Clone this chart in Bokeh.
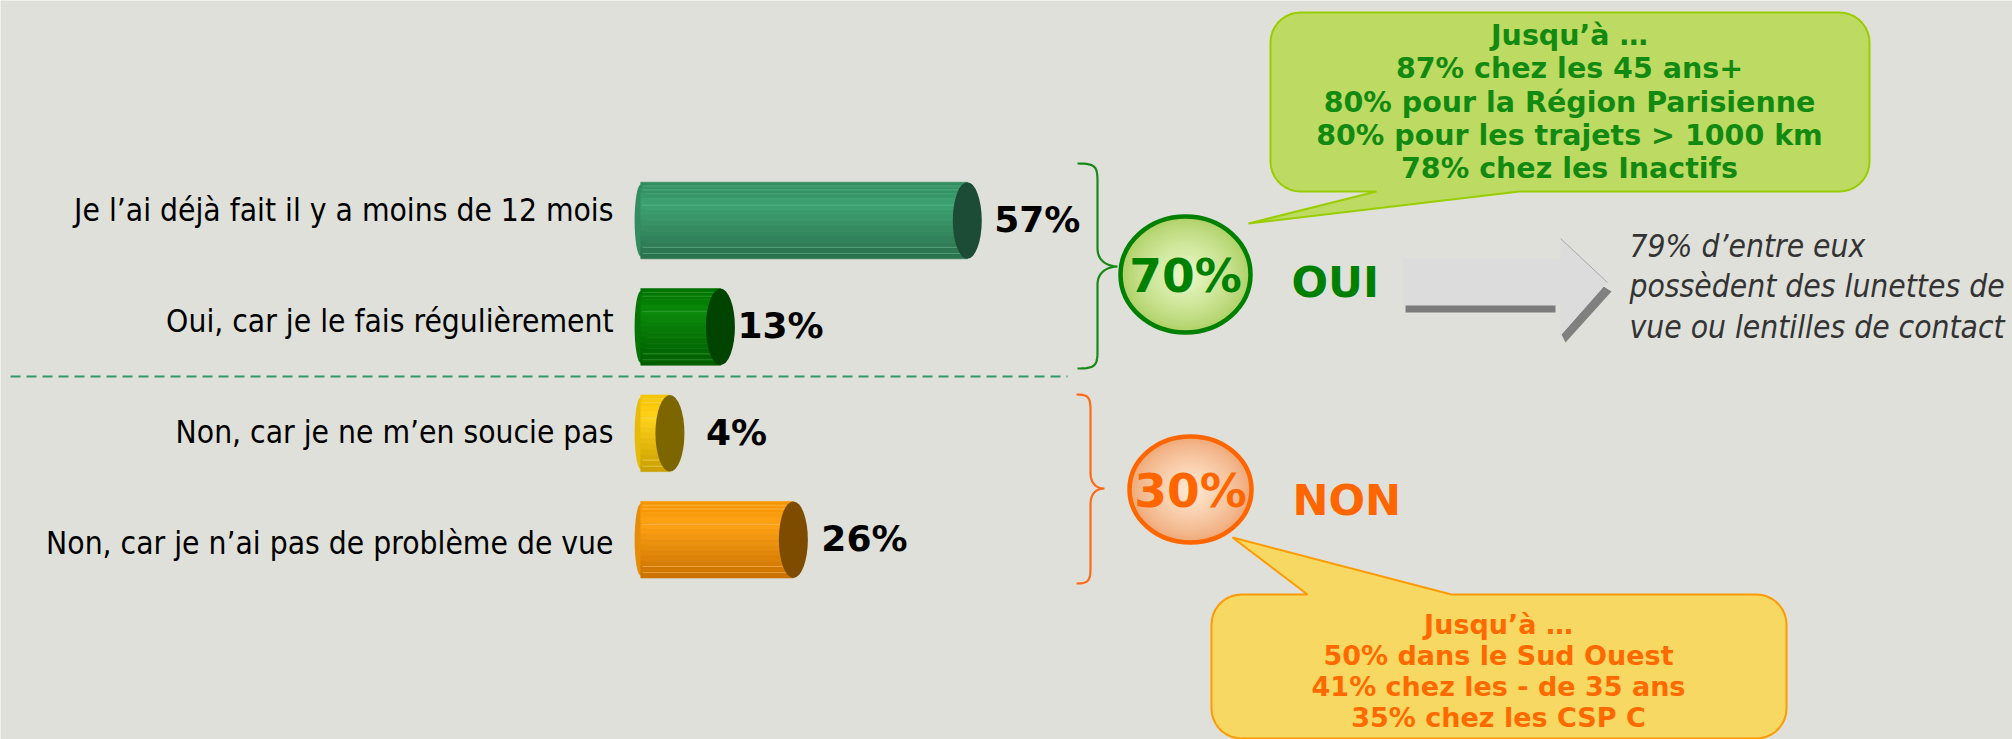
import numpy as np
from bokeh.plotting import figure
from bokeh.models import Range1d
from bokeh.core.properties import value
from bokeh.embed import file_html
from bokeh.resources import INLINE

# ---------------- data ----------------
categories = [
    "Je l\u2019ai d\u00e9j\u00e0 fait il y a moins de 12 mois",
    "Oui, car je le fais r\u00e9guli\u00e8rement",
    "Non, car je ne m\u2019en soucie pas",
    "Non, car je n\u2019ai pas de probl\u00e8me de vue",
]
values = [57, 13, 4, 26]
groups = ["OUI", "OUI", "NON", "NON"]
oui_details = ["Jusqu\u2019\u00e0 \u2026", "87% chez les 45 ans+", "80% pour la R\u00e9gion Parisienne",
               "80% pour les trajets > 1000 km", "78% chez les Inactifs"]
non_details = ["Jusqu\u2019\u00e0 \u2026", "50% dans le Sud Ouest", "41% chez les - de 35 ans", "35% chez les CSP C"]
oui_note = ["79% d\u2019entre eux", "poss\u00e8dent des lunettes de", "vue ou lentilles de contact"]

oui_total = sum(v for v, g in zip(values, groups) if g == "OUI")
non_total = sum(v for v, g in zip(values, groups) if g == "NON")

# ---------------- styles ----------------
BG = "#dfe0da"
W, H = 2012, 739
bar_styles = [
    dict(top="#2f8a5e", hi="#3da372", bot="#2a6f4c", cap="#1c4c35", stripe="#6cbf96"),
    dict(top="#007000", hi="#0a8a0a", bot="#005c00", cap="#004400", stripe="#45a845"),
    dict(top="#f5c400", hi="#ffd21a", bot="#c99e00", cap="#7d6500", stripe="#f3de7a"),
    dict(top="#f59300", hi="#ffa214", bot="#c87000", cap="#7d4c00", stripe="#ffc46e"),
]
value_label_offsets = [27, 17, 36, 28]   # px gap after each bar end
LABEL_FONT = value("DejaVu Sans Condensed")
BOLD_FONT = value("DejaVu Sans")

p = figure(width=W, height=H, output_backend="svg", toolbar_location=None,
           x_range=Range1d(0, W), y_range=Range1d(H, 0),
           min_border=0, background_fill_color=BG, border_fill_color=BG,
           outline_line_color=None)
p.axis.visible = False
p.grid.visible = False

# scales for the bars: percent -> pixels, row -> pixels
PX0, PX_PER_PCT = 647.0, 5.61
ROW0, ROW_STEP = 220.0, 106.4
p.extra_x_ranges = {"pct": Range1d((0 - PX0) / PX_PER_PCT, (W - PX0) / PX_PER_PCT)}
p.extra_y_ranges = {"row": Range1d((H - ROW0) / ROW_STEP, (0 - ROW0) / ROW_STEP)}


def hex2rgb(h):
    h = h.lstrip("#")
    return np.array([int(h[i:i + 2], 16) for i in (0, 2, 4)], dtype=float)


def rgb2hex(c):
    c = np.clip(np.round(c), 0, 255).astype(int)
    return "#%02x%02x%02x" % tuple(c)


def mix(a, b, t):
    return rgb2hex(hex2rgb(a) * (1 - t) + hex2rgb(b) * t)


# ---------------- bars ----------------
BAR_H = 0.72          # in row units
BASE = -1.2           # left end of cylinder (pct units)
CAP_W = 29 / PX_PER_PCT
NSTRIP = 14
rows = list(range(len(values)))
for r, v, st in zip(rows, values, bar_styles):
    # left rounded edge
    p.ellipse(x=[BASE], y=[r], width=[2.2], height=[BAR_H * 0.94], fill_color=mix(st["hi"], st["bot"], 0.45),
              line_color=None, x_range_name="pct", y_range_name="row")
    tops, bots, cols = [], [], []
    for j in range(NSTRIP):
        t = (j + 0.5) / NSTRIP
        if t < 0.3:
            c = mix(st["top"], st["hi"], t / 0.3)
        else:
            c = mix(st["hi"], st["bot"], (t - 0.3) / 0.7)
        tops.append(r - BAR_H / 2 + j * BAR_H / NSTRIP)
        bots.append(r - BAR_H / 2 + (j + 1) * BAR_H / NSTRIP)
        cols.append(c)
    p.quad(left=[BASE] * NSTRIP, right=[v] * NSTRIP, top=tops, bottom=bots, fill_color=cols,
           line_color=cols, line_width=0.6, x_range_name="pct", y_range_name="row")
    # light stripes
    for f in (0.05, 0.1, 0.3, 0.85, 0.93):
        yy = r - BAR_H / 2 + f * BAR_H
        p.segment(x0=[BASE + 0.3], x1=[v], y0=[yy], y1=[yy], line_color=st["stripe"],
                  line_alpha=0.55, line_width=1, x_range_name="pct", y_range_name="row")
    # end cap
    p.ellipse(x=[v], y=[r], width=[CAP_W], height=[BAR_H], fill_color=st["cap"],
              line_color=None, x_range_name="pct", y_range_name="row")

# value labels
for r, v, off in zip(rows, values, value_label_offsets):
    p.text(x=[v], y=[r], text=[f"{v}%"], x_offset=off, y_offset=-1,
           text_font=BOLD_FONT, text_font_style="bold", text_font_size="36px",
           text_color="black", text_baseline="middle", text_align="left",
           x_range_name="pct", y_range_name="row")

# category labels
label_y = [209 + 111.3 * i for i in rows]
p.text(x=[613] * 4, y=label_y, text=categories, text_font=LABEL_FONT,
       text_font_size="31.5px", text_color="black", text_align="right",
       text_baseline="middle")

# dashed separator
p.line(x=[10, 1067], y=[376, 376], line_color="#2e9a68", line_width=2, line_dash="10 6")


# ---------------- braces ----------------
def bez(p0, p1, p2, p3, n=16):
    t = np.linspace(0, 1, n)[:, None]
    p0, p1, p2, p3 = map(np.array, (p0, p1, p2, p3))
    return (1 - t) ** 3 * p0 + 3 * (1 - t) ** 2 * t * p1 + 3 * (1 - t) * t ** 2 * p2 + t ** 3 * p3


def brace(xe, xm, xt, yt, yc, yb, r):
    segs = [
        bez((xe, yt), (xm - 2, yt), (xm, yt + 3), (xm, yt + r)),
        np.array([(xm, yt + r), (xm, yc - r)]),
        bez((xm, yc - r), (xm, yc - 3), (xt - 6, yc), (xt, yc)),
        bez((xt, yc), (xt - 6, yc), (xm, yc + 3), (xm, yc + r)),
        np.array([(xm, yc + r), (xm, yb - r)]),
        bez((xm, yb - r), (xm, yb - 3), (xm - 2, yb), (xe, yb)),
    ]
    pts = np.vstack(segs)
    return pts[:, 0], pts[:, 1]


bx, by = brace(1077, 1097, 1117, 163, 266, 368, 18)
p.line(bx, by, line_color="#168a16", line_width=2.2)
bx, by = brace(1076, 1090, 1104, 394, 488, 583, 16)
p.line(bx, by, line_color="#ff6a1a", line_width=2.2)


# ---------------- callouts ----------------
def arc(cx, cy, r, a0, a1, n=10):
    a = np.radians(np.linspace(a0, a1, n))
    return list(zip(cx + r * np.cos(a), cy + r * np.sin(a)))


def callout(x0, x1, y0, y1, r, side, tb0, tb1, tip):
    pts = []
    pts.append((x0 + r, y0))
    if side == "top":
        pts += [(tb0, y0), tip, (tb1, y0)]
    pts.append((x1 - r, y0))
    pts += arc(x1 - r, y0 + r, r, -90, 0)
    pts += arc(x1 - r, y1 - r, r, 0, 90)
    if side == "bottom":
        pts += [(tb1, y1), tip, (tb0, y1)]
    pts += arc(x0 + r, y1 - r, r, 90, 180)
    pts += arc(x0 + r, y0 + r, r, 180, 270)
    xs, ys = zip(*pts)
    return list(xs), list(ys)


cx_, cy_ = callout(1270, 1869, 12, 191, 30, "bottom", 1376, 1519, (1248, 223))
p.patch(cx_, cy_, fill_color="#bddb62", line_color="#9acd00", line_width=2)
for k, line in enumerate(oui_details):
    p.text(x=[1569], y=[35 + 33.3 * k], text=[line], text_font=BOLD_FONT, text_font_style="bold",
           text_font_size="28.5px", text_color="#128a12", text_align="center", text_baseline="middle")

cx_, cy_ = callout(1211, 1786, 594, 738, 30, "top", 1307, 1451, (1232, 537))
p.patch(cx_, cy_, fill_color="#f6d862", line_color="#ff9a00", line_width=2)
for k, line in enumerate(non_details):
    p.text(x=[1498], y=[624 + 31 * k], text=[line], text_font=BOLD_FONT, text_font_style="bold",
           text_font_size="27px", text_color="#ff6a00", text_align="center", text_baseline="middle")


# ---------------- circles ----------------
def gradient_ellipse(cx, cy, rx, ry, edge, center, outline):
    n = 24
    for k in range(n):
        s = 1 - k / n
        t = (k / (n - 1)) ** 0.8
        p.ellipse(x=[cx], y=[cy], width=[2 * rx * s], height=[2 * ry * s],
                  fill_color=mix(edge, center, t), line_color=None)
    p.ellipse(x=[cx], y=[cy], width=[2 * rx], height=[2 * ry], fill_color=None,
              line_color=outline, line_width=4.5)


gradient_ellipse(1185, 274, 65, 58, "#add065", "#eaf8c6", "#008000")
gradient_ellipse(1190, 489, 61, 53, "#efa877", "#ffe9d2", "#ff6600")
p.text(x=[1185], y=[275], text=[f"{oui_total}%"], text_font=BOLD_FONT, text_font_style="bold",
       text_font_size="47px", text_color="#008000", text_align="center", text_baseline="middle")
p.text(x=[1190], y=[490], text=[f"{non_total}%"], text_font=BOLD_FONT, text_font_style="bold",
       text_font_size="47px", text_color="#ff6600", text_align="center", text_baseline="middle")
p.text(x=[1291], y=[281], text=["OUI"], text_font=BOLD_FONT, text_font_style="bold",
       text_font_size="43px", text_color="#008000", text_align="left", text_baseline="middle")
p.text(x=[1292], y=[499], text=["NON"], text_font=BOLD_FONT, text_font_style="bold",
       text_font_size="43px", text_color="#ff6600", text_align="left", text_baseline="middle")

# ---------------- arrow ----------------
p.patch([1405, 1555, 1555, 1562, 1563, 1405], [304, 304, 312, 312, 312, 312],
        fill_color="#7c7c7c", line_color=None)
p.patch([1603, 1611, 1565, 1561], [286, 291, 342, 334], fill_color="#808080", line_color=None)
p.patch([1403, 1560, 1560, 1607, 1560, 1560, 1403],
        [258, 258, 238, 282, 335, 305, 305], fill_color="#dcdcdc", line_color=None)
p.line([1560, 1607], [238, 282], line_color="#a8a8a8", line_width=1)

for k, line in enumerate(oui_note):
    p.text(x=[1629], y=[245 + 40.5 * k], text=[line], text_font=LABEL_FONT, text_font_style="italic",
           text_font_size="31.5px", text_color="#333333", text_align="left", text_baseline="middle")

html = file_html(p, INLINE)
html = html.replace("<body>", '<body style="background-color:%s;">' % BG, 1)
open("out.html", "w").write(html)
